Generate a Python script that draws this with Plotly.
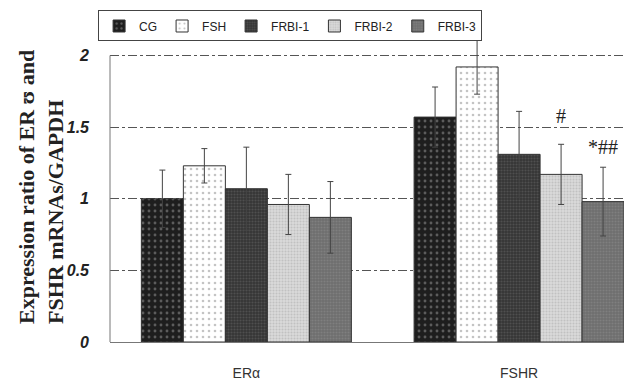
import plotly.graph_objects as go

categories = ["ERα", "FSHR"]
groups = ["CG", "FSH", "FRBI-1", "FRBI-2", "FRBI-3"]
values = {
    "CG":     [1.00, 1.57],
    "FSH":    [1.23, 1.92],
    "FRBI-1": [1.07, 1.31],
    "FRBI-2": [0.96, 1.17],
    "FRBI-3": [0.87, 0.98],
}
errors = {
    "CG":     [0.20, 0.21],
    "FSH":    [0.12, 0.19],
    "FRBI-1": [0.29, 0.30],
    "FRBI-2": [0.21, 0.21],
    "FRBI-3": [0.25, 0.24],
}
y_ticks = [0, 0.5, 1, 1.5, 2]
y_tick_labels = ["0", "0.5", "1", "1.5", "2"]
y_axis_max = 2
marks = [("FSHR", "FRBI-2", "#", 1.58), ("FSHR", "FRBI-3", "*##", 1.36)]

styles = {
    "CG":     dict(bg="#1e1e1e", fg="#9a9a9a", size=6, sol=0.18),
    "FSH":    dict(bg="#ffffff", fg="#8a8a8a", size=6, sol=0.15),
    "FRBI-1": dict(bg="#353535", fg="#6a6a6a", size=3, sol=0.4),
    "FRBI-2": dict(bg="#dadada", fg="#a8a8a8", size=3, sol=0.4),
    "FRBI-3": dict(bg="#6e6e6e", fg="#909090", size=3, sol=0.4),
}

fig = go.Figure()
for g in groups:
    s = styles[g]
    fig.add_trace(go.Bar(
        name=g, x=categories, y=values[g],
        marker=dict(color=s["bg"], line=dict(color="#333333", width=1),
                    pattern=dict(shape=".", fgcolor=s["fg"], bgcolor=s["bg"],
                                 size=s["size"], solidity=s["sol"])),
        error_y=dict(type="data", array=errors[g], color="#444444",
                     thickness=1, width=3),
    ))

bargap = 0.23
bw = (1 - bargap) / len(groups)
for cat, grp, txt, yv in marks:
    xi = categories.index(cat) + (groups.index(grp) - (len(groups) - 1) / 2) * bw
    fig.add_annotation(x=xi, y=yv, xref="x", yref="y", text=txt, showarrow=False,
                       font=dict(family="Liberation Serif", size=20, color="#222"),
                       xanchor="center", yanchor="middle")

fig.add_annotation(
    x=-0.131, y=0.502, xref="paper", yref="paper", textangle=-90, align="left",
    text="<b>Expression ratio of ER ʊ and<br>FSHR mRNAs/GAPDH</b>", showarrow=False,
    font=dict(family="Liberation Serif", size=22, color="#222"),
    xanchor="center", yanchor="middle")

# left axis line spanning only the labelled range
fig.add_shape(type="line", xref="paper", yref="y", x0=0, x1=0, y0=0, y1=y_axis_max,
              line=dict(color="#777", width=1))

fig.update_layout(
    width=624, height=375,
    margin=dict(l=102, r=0, t=26, b=41, autoexpand=False),
    paper_bgcolor="white", plot_bgcolor="white",
    barmode="group", bargap=bargap, bargroupgap=0,
    font=dict(family="Liberation Sans", color="#222"),
    legend=dict(orientation="h", x=0.345, y=1.026, xanchor="center", yanchor="middle",
                bordercolor="#444", borderwidth=1, bgcolor="white",
                font=dict(size=12, color="#222"), itemwidth=30,
                tracegroupgap=0),
    xaxis=dict(type="category", range=[-0.5, 1.414], showline=True,
               linecolor="#777", linewidth=1, ticks="", showgrid=False,
               tickfont=dict(size=14, color="#333"), ticklabelstandoff=18),
    yaxis=dict(range=[0, 2.15], tickvals=y_ticks, ticktext=y_tick_labels,
               showline=False, ticks="",
               showgrid=True, gridcolor="#555", griddash="dashdot", gridwidth=1,
               zeroline=False,
               tickfont=dict(family="Liberation Sans", size=16, color="#222",
                             weight="bold", style="italic"),
               ticklabelstandoff=20),
)
fig.write_html("out.html")
